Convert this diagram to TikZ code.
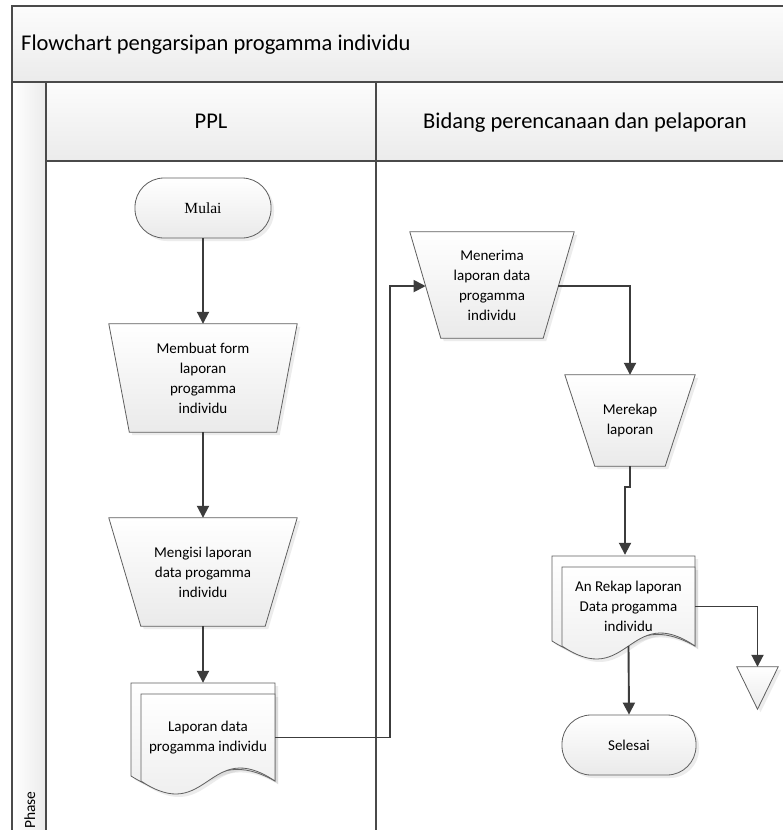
\documentclass[tikz,border=0pt]{standalone}
\usepackage{fontspec}
\setmainfont{Carlito}
\newfontfamily\serifnode{Liberation Serif}
\usetikzlibrary{arrows.meta,shadows,calc}
\pgfdeclarelayer{bg}
\pgfdeclarelayer{shapes}
\pgfsetlayers{bg,shapes,main}
\definecolor{lanecol}{HTML}{4A4A4A}
\definecolor{conncol}{HTML}{3C3C3C}
\definecolor{shpcol}{HTML}{5F5F5F}
\definecolor{shpbot}{HTML}{EAEAEA}
\definecolor{bandtop}{HTML}{FCFCFC}
\definecolor{bandbot}{HTML}{EBEBEB}
\newcommand{\docshape}[4]{%
  \path[shp] (#1-10,#2-11) -- (#3,#2-11) -- (#3,#4)
     .. controls ({(#1-10+#3)/2},#4-40) and ({(#1-10+#3)/2},#4+40) .. (#1-10,#4-5) -- cycle;
  \path[shp] (#1,#2) -- (#3,#2) -- (#3,#4)
     .. controls ({(#1+#3)/2},#4-45) and ({(#1+#3)/2},#4+45) .. (#1,#4) -- cycle;
}
\newcommand{\trapshape}[2]{%
  \path[shp] (#1.north west) -- (#1.north east) -- ([xshift=-#2pt]#1.south east)
     -- ([xshift=#2pt]#1.south west) -- cycle;
}
\begin{document}
\begin{tikzpicture}[x=1pt,y=-1pt,
  lane/.style={draw=lanecol, line width=1.5pt},
  shp/.style={draw=shpcol, line width=0.8pt, top color=white, bottom color=shpbot,
    drop shadow={opacity=0.15, shadow xshift=3pt, shadow yshift=-3pt}},
  txt/.style={font=\fontsize{15}{20}\selectfont, align=center, inner sep=0pt},
  hdr/.style={font=\fontsize{22.5}{27}\selectfont, inner sep=0pt},
  conn/.style={draw=conncol, line width=1.9pt, -{Triangle[length=12pt,width=12pt]}},
  term/.style={shp, rounded corners=29pt, minimum height=60pt, inner sep=0pt}
 ]
\path[use as bounding box] (0,0) rectangle (782,830);
\clip (0,0) rectangle (782,830);

% ---------- swimlane frame ----------
\begin{pgfonlayer}{bg}
  \fill[white] (0,0) rectangle (782,830);
  \path[top color=bandtop, bottom color=bandbot] (12,6) rectangle (800,82);
  \path[top color=bandtop, bottom color=bandbot] (46,82) rectangle (800,161);
  \path[left color=white, right color=bandbot] (12,82) rectangle (46,840);
  \draw[lane] (800,6) -- (12,6) -- (12,840);
  \draw[lane] (12,82) -- (800,82);
  \draw[lane] (46,82) -- (46,840);
  \draw[lane] (46,161) -- (800,161);
  \draw[lane] (376,82) -- (376,840);
\end{pgfonlayer}

\node[hdr, anchor=base west] (title) at (21,50) {Flowchart pengarsipan progamma individu};
\node[hdr, anchor=base] (ppl) at (211,128) {PPL};
\node[hdr, anchor=base] (bidang) at (585,128) {Bidang perencanaan dan pelaporan};
\node[font=\fontsize{15.5}{18}\selectfont, rotate=90, anchor=base west, inner sep=0pt] (phase) at (35,829) {Phase};

% ---------- nodes ----------
\node[term, minimum width=136pt, font=\serifnode\fontsize{15.5}{18}\selectfont] (mulai) at (203,208) {Mulai};
\node[txt, minimum width=188pt, minimum height=108pt] (membuat) at (203,378) {Membuat form\\laporan\\progamma\\individu};
\node[txt, minimum width=188pt, minimum height=108pt] (mengisi) at (203,572) {Mengisi laporan\\data progamma\\individu};
\node[txt, minimum width=134pt, minimum height=87pt] (laporan) at (208,737.5) {Laporan data\\progamma individu};
\node[txt, minimum width=164pt, minimum height=106pt] (menerima) at (492,285) {Menerima\\laporan data\\progamma\\individu};
\node[txt, minimum width=130pt, minimum height=91pt] (merekap) at (630,420.5) {Merekap\\laporan};
\node[txt, minimum width=133pt, minimum height=79pt] (anrekap) at (628.5,606.5) {An Rekap laporan\\Data progamma\\individu};
\node[term, minimum width=134pt, font=\fontsize{15}{18}\selectfont] (selesai) at (629,745) {Selesai};
\node[inner sep=0pt, minimum width=41pt, minimum height=42pt] (tri) at (757.5,688) {};

\begin{pgfonlayer}{shapes}
  \trapshape{membuat}{20.5}
  \trapshape{mengisi}{32}
  \trapshape{menerima}{31}
  \trapshape{merekap}{30}
  \docshape{141}{694}{275}{781}
  \docshape{562}{567}{695}{646}
  \path[shp] (tri.north west) -- (tri.north east) -- (tri.south) -- cycle;
\end{pgfonlayer}

\coordinate (menerima-in) at ($(menerima.north west)!0.51!([xshift=31pt]menerima.south west)$);
\coordinate (menerima-out) at ($(menerima.north east)!0.51!([xshift=-31pt]menerima.south east)$);

% ---------- connectors ----------
\draw[conn] (mulai.south) -- (membuat.north);
\draw[conn] (membuat.south) -- (mengisi.north);
\draw[conn] (mengisi.south) -- ($(mengisi.south |- laporan.north)+(0,-11)$);
\draw[conn] (laporan.east) -- ++(115,0) |- (menerima-in);
\draw[conn] (menerima-out) -| (merekap.north);
\draw[conn] (merekap.south) -- ++(0,21) -| ($(anrekap.north)+(-3.5,-12)$);
\draw[conn] (anrekap.east) -| (tri.north);
\draw[conn] (anrekap.south) -- (selesai.north);
\end{tikzpicture}
\end{document}
